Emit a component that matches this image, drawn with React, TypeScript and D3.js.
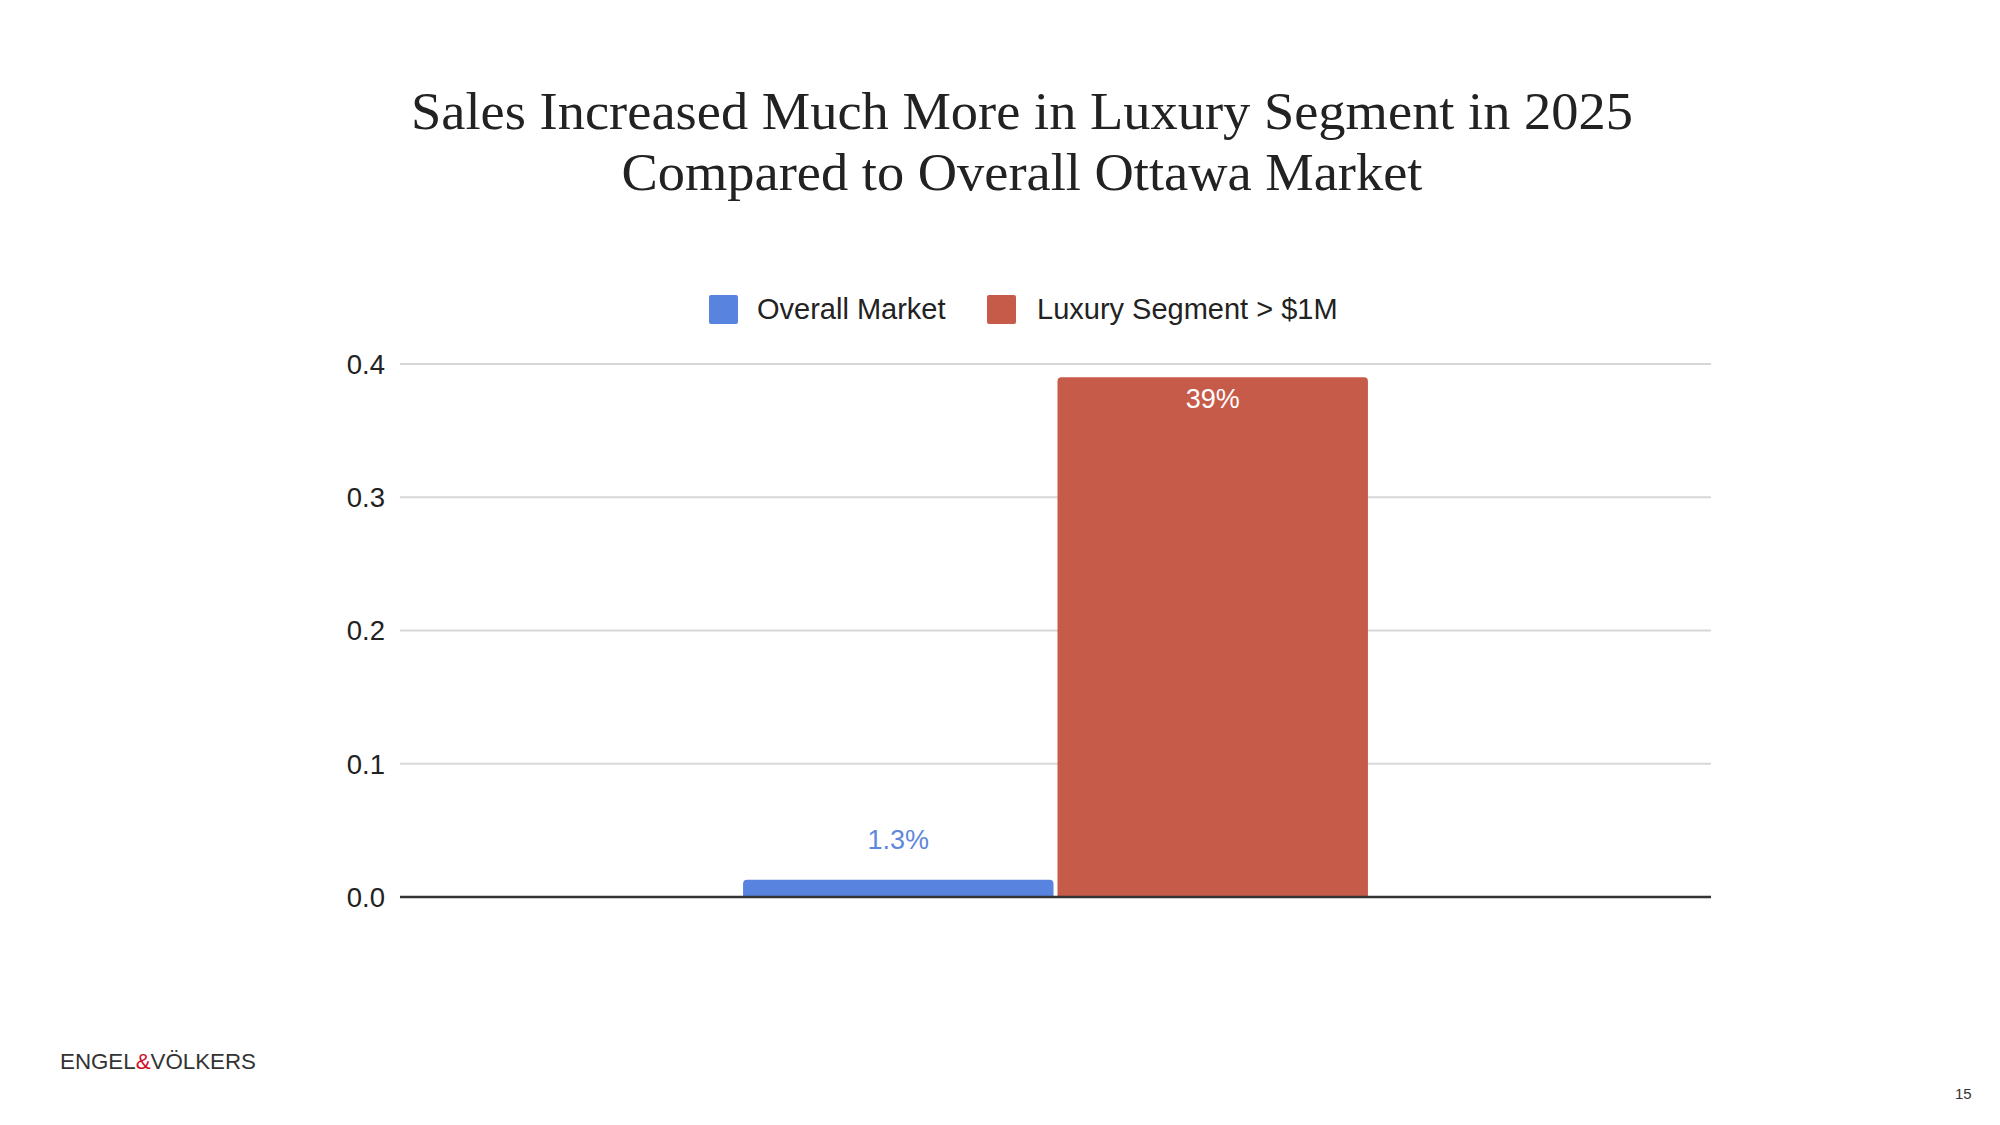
import React from "react";
import * as d3 from "d3";

const titleLines = [
  "Sales Increased Much More in Luxury Segment in 2025",
  "Compared to Overall Ottawa Market",
];
const categories = ["2025"];
const seriesNames = ["Overall Market", "Luxury Segment > $1M"];
const seriesValues = [0.013, 0.39];
const valueLabels = ["1.3%", "39%"];
const seriesColors = ["#5884e0", "#c75b4a"];
const labelColors = ["#5f87dc", "#ffffff"];
const yTicks = [0, 0.1, 0.2, 0.3, 0.4];
const yTickLabels = ["0.0", "0.1", "0.2", "0.3", "0.4"];
const pageNumber = "15";

const W = 2000;
const H = 1125;
const plotLeft = 400;
const plotRight = 1711;
const plotTop = 364;
const plotBottom = 897;

const sans = "'Liberation Sans', Arial, Helvetica, sans-serif";
const serif = "'Liberation Serif', 'Times New Roman', serif";

function topRoundedBar(x: number, y: number, w: number, h: number, r: number) {
  const rr = Math.min(r, h, w / 2);
  return `M${x},${y + h}V${y + rr}Q${x},${y} ${x + rr},${y}H${x + w - rr}Q${x + w},${y} ${x + w},${y + rr}V${y + h}Z`;
}

export default function App() {
  const y = d3.scaleLinear().domain([0, 0.4]).range([plotBottom, plotTop]);
  const x0 = d3
    .scaleBand<string>()
    .domain(categories)
    .range([plotLeft, plotRight])
    .paddingInner(0)
    .paddingOuter(0.549)
    .align(0.5);
  const x1 = d3
    .scaleBand<string>()
    .domain(seriesNames)
    .range([0, x0.bandwidth()])
    .paddingInner(0.0127);

  const legendItems = [
    { sq: 709, tx: 757 },
    { sq: 987, tx: 1037 },
  ];

  return (
    <svg
      width={W}
      height={H}
      viewBox={`0 0 ${W} ${H}`}
      style={{ position: "absolute", left: 0, top: 0, background: "#fff" }}
    >
      <rect x={0} y={0} width={W} height={H} fill="#fff" />
      {/* Title */}
      <text
        x={1022}
        y={129}
        textAnchor="middle"
        fontFamily={serif}
        fontSize={52}
        fill="#222"
        textLength={1222}
        lengthAdjust="spacingAndGlyphs"
      >
        {titleLines[0]}
      </text>
      <text
        x={1022}
        y={190}
        textAnchor="middle"
        fontFamily={serif}
        fontSize={52}
        fill="#222"
        textLength={801}
        lengthAdjust="spacingAndGlyphs"
      >
        {titleLines[1]}
      </text>

      {/* Legend */}
      {seriesNames.map((name, i) => (
        <g key={name}>
          <rect
            x={legendItems[i].sq}
            y={295}
            width={29}
            height={29}
            rx={2}
            fill={seriesColors[i]}
          />
          <text
            x={legendItems[i].tx}
            y={319}
            fontFamily={sans}
            fontSize={29}
            fill="#222"
          >
            {name}
          </text>
        </g>
      ))}

      {/* Gridlines & y ticks */}
      {yTicks.map((t, i) => (
        <g key={t}>
          {t !== 0 && (
            <line
              x1={plotLeft}
              x2={plotRight}
              y1={y(t)}
              y2={y(t)}
              stroke="#d8d8d8"
              strokeWidth={2}
            />
          )}
          <text
            x={385}
            y={y(t)}
            dy="0.36em"
            textAnchor="end"
            fontFamily={sans}
            fontSize={27.5}
            fill="#222"
          >
            {yTickLabels[i]}
          </text>
        </g>
      ))}

      {/* Bars */}
      {categories.map((c) => (
        <g key={c} transform={`translate(${x0(c)},0)`}>
          {seriesNames.map((s, i) => {
            const bx = x1(s) as number;
            const by = y(seriesValues[i]);
            const bh = plotBottom - by;
            const bw = x1.bandwidth();
            const inside = i === 1;
            return (
              <g key={s}>
                <path d={topRoundedBar(bx, by, bw, bh, 4)} fill={seriesColors[i]} />
                <text
                  x={bx + bw / 2}
                  y={inside ? by + 31 : by - 31}
                  textAnchor="middle"
                  fontFamily={sans}
                  fontSize={27}
                  fill={labelColors[i]}
                >
                  {valueLabels[i]}
                </text>
              </g>
            );
          })}
        </g>
      ))}

      {/* Baseline */}
      <line
        x1={plotLeft}
        x2={plotRight}
        y1={y(0)}
        y2={y(0)}
        stroke="#333"
        strokeWidth={2.5}
      />

      {/* Footer logo */}
      <text
        x={60}
        y={1069}
        fontFamily={sans}
        fontSize={22}
        fill="#333"
        textLength={196}
        lengthAdjust="spacingAndGlyphs"
      >
        ENGEL<tspan fill="#d0102a">&amp;</tspan>VÖLKERS
      </text>
      <text x={1955} y={1099} fontFamily={sans} fontSize={15} fill="#333">
        {pageNumber}
      </text>
    </svg>
  );
}
